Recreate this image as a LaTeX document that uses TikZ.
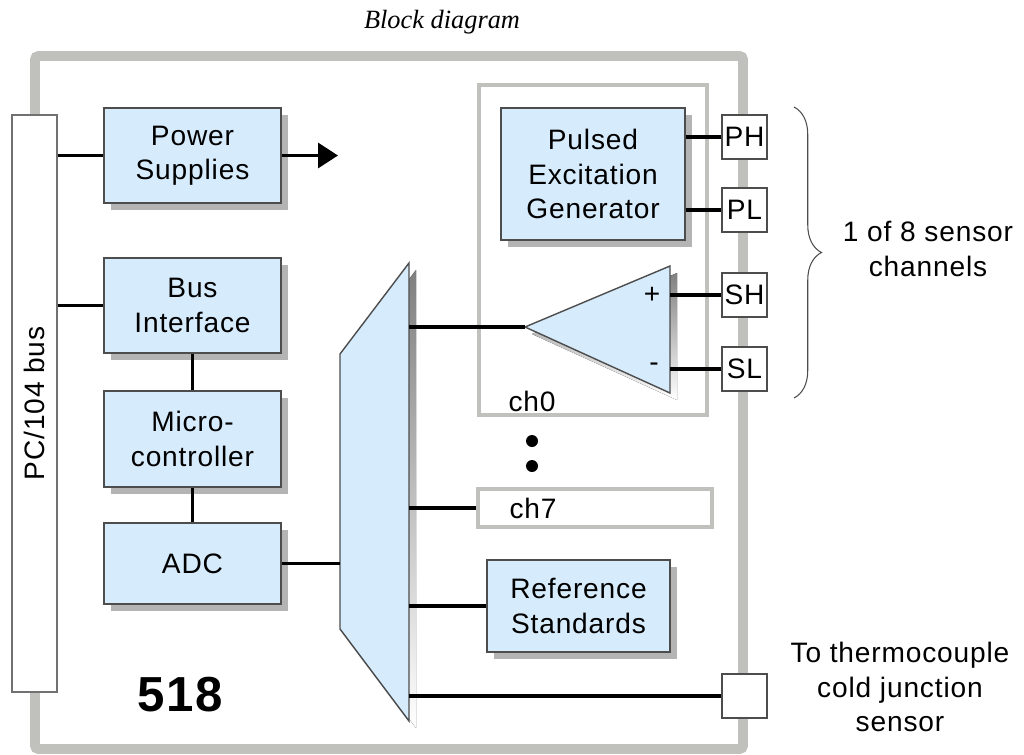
\documentclass[tikz,border=0pt]{standalone}
\usepackage{fontspec}
\setmainfont{Liberation Sans}[LetterSpace=3]
\newfontfamily\titlefont{Liberation Serif}
\usepackage{tikz}
\usetikzlibrary{arrows.meta,positioning,calc,decorations.pathreplacing,shadows}
\definecolor{boxblue}{HTML}{D6EBFC}
\definecolor{edge}{HTML}{4D4D4D}
\definecolor{shade}{HTML}{B4B4B4}
\definecolor{framegray}{HTML}{C0C0BC}

\begin{document}
\begin{tikzpicture}[x=0.02cm,y=-0.02cm,
  font=\fontsize{16}{19.5}\selectfont,
  shadowed/.style={drop shadow={shadow xshift=0.14cm,shadow yshift=-0.14cm,fill=shade,opacity=1}},
  blk/.style={draw=edge,fill=boxblue,line width=0.8pt,align=center,inner sep=0pt,shadowed},
  term/.style={draw=edge,fill=white,line width=0.7pt,minimum width=0.9cm,minimum height=0.88cm,inner sep=0pt},
  chan/.style={draw=framegray,line width=1.9pt,inner sep=0pt},
  wire/.style={line width=1.9pt}]
  \useasboundingbox (0,0) rectangle (1024,754);
  \node[font=\titlefont\itshape\fontsize{15}{18}\selectfont] (title) at (442,22) {Block diagram};
  % board outline
  \draw[framegray,line width=5.6pt,rounded corners=2pt] (35,56) rectangle (743,749);
  \node[draw=edge!80,fill=white,line width=0.7pt,minimum width=0.9cm,minimum height=11.54cm] (bus) at (34.5,403.5) {};
  \node[rotate=90] at (bus.center) {PC/104 bus};
  \node[font=\bfseries\fontsize{28}{32}\selectfont] (model) at (180,695) {518};
  % left column
  \node[blk,minimum width=3.54cm,minimum height=1.9cm] (ps) at (192.5,155.5) {Power\\Supplies};
  \node[blk,minimum width=3.54cm,minimum height=1.9cm] (bi) at (192.5,305.5) {Bus\\Interface};
  \node[blk,minimum width=3.54cm,minimum height=1.92cm] (mc) at (192.5,439) {Micro-\\controller};
  \node[blk,minimum width=3.54cm,minimum height=1.62cm] (adc) at (192.5,563.5) {ADC};
  \coordinate (pwrout) at (338,155.5);
  \draw[wire] (bus.east |- ps.west) -- (ps.west);
  \draw[wire,-{Triangle[length=0.4cm,width=0.5cm]}] (ps.east) -- (pwrout);
  \draw[wire] (bus.east |- bi.west) -- (bi.west);
  \draw[wire] (bi.south) -- (mc.north);
  \draw[wire] (mc.south) -- (adc.north);
  % channel 0
  \node[chan,minimum width=4.56cm,minimum height=6.6cm] (ch0) at (593,250) {};
  \node (ch0lbl) at (532,401) {ch0};
  \node[blk,minimum width=3.68cm,minimum height=2.64cm] (peg) at (593,174) {Pulsed\\Excitation\\Generator};
  \coordinate (amptip) at (525,327);
  \coordinate (ampp) at (670,295);
  \coordinate (ampm) at (670,369);
  \fill[shade] (532,334) -- (677,273) -- (677,400) -- cycle;
  \path[draw=edge,fill=boxblue,line width=0.8pt] (amptip) -- (670,266) -- (670,393) -- cycle;
  \node (plus) at (652,295) {+};
  \node (minus) at (654,367) {-};
  \node[term] (ph) at (744.5,137) {PH};
  \node[term] (pl) at (744.5,210) {PL};
  \node[term] (sh) at (744.5,295) {SH};
  \node[term] (sl) at (744.5,369) {SL};
  \draw[wire] (peg.east |- ph) -- (ph.west);
  \draw[wire] (peg.east |- pl) -- (pl.west);
  \draw[wire] (ampp) -- (sh.west);
  \draw[wire] (ampm) -- (sl.west);
  \draw[edge,line width=0.6pt,decorate,decoration={brace,amplitude=0.55cm}] (794,107) -- (794,398);
  \node[align=center] (nch) at (928,249) {1 of 8 sensor\\channels};
  % remaining channels
  \fill (532,441) circle (0.12cm);
  \fill (532,466) circle (0.12cm);
  \node[chan,minimum width=4.68cm,minimum height=0.76cm] (ch7) at (595,508) {};
  \node (ch7lbl) at (533,508) {ch7};
  \node[blk,minimum width=3.66cm,minimum height=1.84cm] (ref) at (578.5,606) {Reference\\Standards};
  \node[term] (cj) at (744.5,696) {};
  \node[align=center] (cjlbl) at (900,687) {To thermocouple\\cold junction\\sensor};
  % multiplexer
  \coordinate (muxtop) at (409,263);
  \coordinate (muxin) at (340,563.5);
  \fill[shade] (416,270) -- (347,361) -- (347,636) -- (416,728) -- cycle;
  \path[draw=edge,fill=boxblue,line width=0.8pt] (muxtop) -- (340,354) -- (340,629) -- (409,721) -- cycle;
  \draw[wire] (adc.east) -- (muxin);
  \draw[wire] (muxtop |- amptip) -- (amptip);
  \draw[wire] (muxtop |- ch7.west) -- (ch7.west);
  \draw[wire] (muxtop |- ref.west) -- (ref.west);
  \draw[wire] (muxtop |- cj.west) -- (cj.west);
\end{tikzpicture}
\end{document}
